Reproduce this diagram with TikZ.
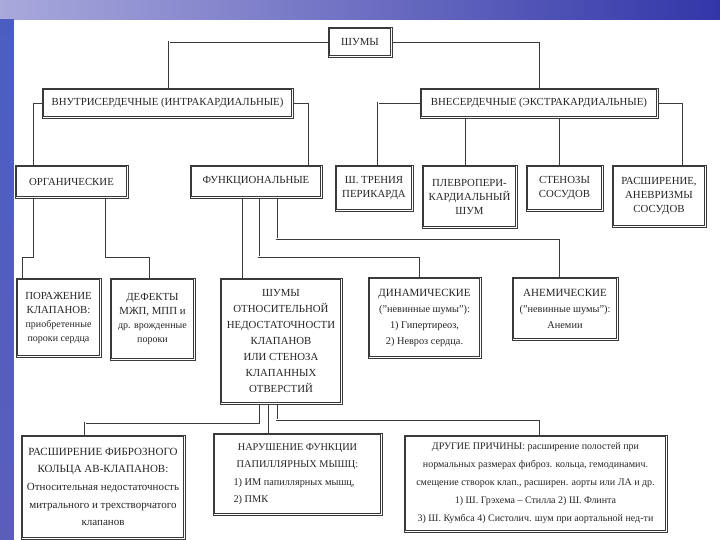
\documentclass[tikz,border=0pt]{standalone}
\usepackage{fontspec}
\setmainfont{Liberation Serif}
\definecolor{linec}{HTML}{3A3A3A}
\definecolor{textc}{HTML}{262626}
\definecolor{slideL}{HTML}{A9A9DC}
\definecolor{slideR}{HTML}{3236A8}
\definecolor{slideS}{HTML}{4A5EC2}
\pgfdeclarelayer{bg}
\pgfdeclarelayer{wires}
\pgfsetlayers{bg,wires,main}
\tikzstyle{box} = [rectangle, draw=linec, line width=0.8pt, fill=white, align=center, text=textc, inner sep=1pt, font=\fontsize{10.8}{14}\selectfont]
\tikzstyle{midbox} = [box, font=\fontsize{10.3}{16}\selectfont]
\tikzstyle{lowbox} = [box, font=\fontsize{10.3}{17.5}\selectfont]
\tikzstyle{frame} = [draw=linec, line width=0.4pt]
\tikzstyle{wire} = [draw=linec, double=white, double distance=1pt, line width=0.5pt]

\begin{document}
\begin{tikzpicture}[x=1pt, y=-1pt]

% slide background
\begin{pgfonlayer}{bg}
\useasboundingbox (0,0) rectangle (720,540);
\shade[left color=slideL, right color=slideR] (0,0) rectangle (720,20);
\shade[top color=slideS, bottom color=slideR!80!white] (0,20) rectangle (14,540);
\fill[white] (14,20) rectangle (720,540);
\end{pgfonlayer}

% top levels
\node[box, minimum width=64pt, minimum height=30pt] (shum) at (360,42) {ШУМЫ};
\node[box, minimum width=251pt, minimum height=30pt] (intra) at (167.5,103) {ВНУТРИСЕРДЕЧНЫЕ (ИНТРАКАРДИАЛЬНЫЕ)};
\node[box, minimum width=238pt, minimum height=30pt] (extra) at (539,103) {ВНЕСЕРДЕЧНЫЕ (ЭКСТРАКАРДИАЛЬНЫЕ)};

% second row
\node[box, minimum width=113pt, minimum height=33pt] (organ) at (71.5,181.5) {ОРГАНИЧЕСКИЕ};
\node[box, minimum width=132pt, minimum height=33pt] (func) at (256,181.5) {ФУНКЦИОНАЛЬНЫЕ};
\node[box, minimum width=78pt, minimum height=46pt] (peric) at (374,188) {Ш. ТРЕНИЯ\\ПЕРИКАРДА};
\node[box, minimum width=95pt, minimum height=63pt] (pleur) at (469.5,196.5) {ПЛЕВРОПЕРИ-\\КАРДИАЛЬНЫЙ\\ШУМ};
\node[box, minimum width=77pt, minimum height=46pt] (sten) at (564.5,188) {СТЕНОЗЫ\\СОСУДОВ};
\node[box, minimum width=94pt, minimum height=62pt] (anevr) at (659,196) {РАСШИРЕНИЕ,\\АНЕВРИЗМЫ\\СОСУДОВ};

% third row
\node[box, minimum width=85pt, minimum height=79pt] (valve) at (58.5,317.5) {ПОРАЖЕНИЕ\\КЛАПАНОВ:\\{\fontsize{10}{14}\selectfont приобретенные}\\{\fontsize{10}{14}\selectfont пороки сердца}};
\node[box, minimum width=85pt, minimum height=82pt] (defect) at (152.5,319) {ДЕФЕКТЫ\\МЖП, МПП и\\{\fontsize{10}{14}\selectfont др. врожденные}\\{\fontsize{10}{14}\selectfont пороки}};
\node[box, minimum width=122pt, minimum height=126pt, font=\fontsize{10.8}{16}\selectfont] (relat) at (281,341) {ШУМЫ\\ОТНОСИТЕЛЬНОЙ\\НЕДОСТАТОЧНОСТИ\\КЛАПАНОВ\\ИЛИ СТЕНОЗА\\КЛАПАННЫХ\\ОТВЕРСТИЙ};
\node[midbox, minimum width=113pt, minimum height=81pt] (dynam) at (424.5,317.5) {{\fontsize{11}{16}\selectfont ДИНАМИЧЕСКИЕ}\\("невинные шумы"):\\1) Гипертиреоз,\\2) Невроз сердца.};
\node[midbox, minimum width=106pt, minimum height=63pt] (anem) at (565,308.5) {{\fontsize{11}{16}\selectfont АНЕМИЧЕСКИЕ}\\("невинные шумы"):\\Анемии};

% bottom row
\node[lowbox, minimum width=164pt, minimum height=104pt, font=\fontsize{11}{17.7}\selectfont] (fibr) at (103,487) {РАСШИРЕНИЕ ФИБРОЗНОГО\\КОЛЬЦА АВ-КЛАПАНОВ:\\Относительная недостаточность\\митрального и трехстворчатого\\клапанов};
\node[lowbox, minimum width=169pt, minimum height=82pt] (papil) at (297.5,474) {НАРУШЕНИЕ ФУНКЦИИ\\ПАПИЛЛЯРНЫХ МЫШЦ:\\\makebox[128pt][l]{1) ИМ папиллярных мышц,}\\\makebox[128pt][l]{2) ПМК}};
\node[lowbox, minimum width=263pt, minimum height=97pt, font=\fontsize{10}{18}\selectfont] (other) at (535.5,483.5) {ДРУГИЕ ПРИЧИНЫ: расширение полостей при\\нормальных размерах фиброз. кольца, гемодинамич.\\смещение створок клап., расширен. аорты или ЛА и др.\\1) Ш. Грэхема -- Стилла 2) Ш. Флинта\\3) Ш. Кумбса 4) Систолич. шум при аортальной нед-ти};

% inner lines of the frames
\foreach \n in {shum,intra,extra,organ,func,peric,pleur,sten,anevr,valve,defect,relat,dynam,anem,fibr,papil,other}
  \draw[frame] ([shift={(2pt,-2pt)}]\n.north west) rectangle ([shift={(-2pt,2pt)}]\n.south east);

% connectors
\begin{pgfonlayer}{wires}
\draw[wire] (shum.west) -| ([xshift=1.5pt]intra.north);
\draw[wire] (shum.east) -| ([xshift=1pt]extra.north);
\draw[wire] (intra.west) -| ([xshift=18pt]organ.north west);
\draw[wire] (intra.east) -| ([xshift=-13pt]func.north east);
\draw[wire] (extra.west) -| ([xshift=4pt]peric.north);
\draw[wire] ([xshift=-3.5pt]extra.south -| pleur.north) -- ([xshift=-3.5pt]pleur.north);
\draw[wire] ([xshift=-4.5pt]extra.south -| sten.north) -- ([xshift=-4.5pt]sten.north);
\draw[wire] (extra.east) -| ([xshift=24pt]anevr.north);
\draw[wire] ([xshift=18pt]organ.south west) |- ([xshift=6pt,yshift=21pt]valve.north west) -- ([xshift=6pt]valve.north west);
\draw[wire] ([xshift=-22pt]organ.south east) |- ([xshift=-2.5pt,yshift=21pt]defect.north) -- ([xshift=-2.5pt]defect.north);
\draw[wire] ([xshift=52pt]func.south west) -- ([xshift=22pt]relat.north west);
\draw[wire] ([xshift=69pt]func.south west) |- ([xshift=-4.5pt,yshift=20pt]dynam.north) -- ([xshift=-4.5pt]dynam.north);
\draw[wire] ([xshift=87pt]func.south west) |- ([xshift=-5pt,yshift=38pt]anem.north) -- ([xshift=-5pt]anem.north);
\draw[wire] ([xshift=39pt]relat.south west) |- ([xshift=-18pt,yshift=12pt]fibr.north) -- ([xshift=-18pt]fibr.north);
\draw[wire] ([xshift=48pt]relat.south west) -- ([xshift=55pt]papil.north west);
\draw[wire] ([xshift=57pt]relat.south west) |- ([xshift=4.5pt,yshift=15pt]other.north) -- ([xshift=4.5pt]other.north);
\end{pgfonlayer}

\end{tikzpicture}
\end{document}
